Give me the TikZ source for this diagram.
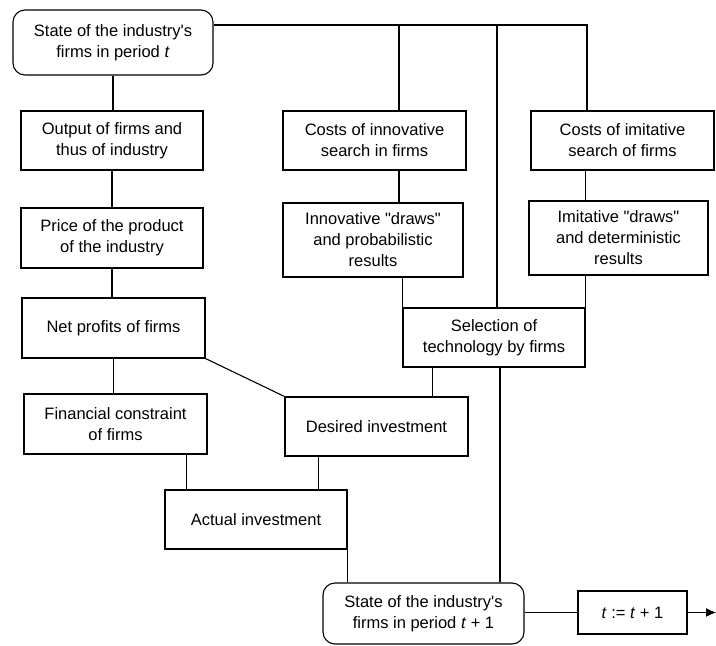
\documentclass[tikz,border=0pt]{standalone}
\usepackage{fontspec}
\setmainfont{Liberation Sans}
\usetikzlibrary{arrows.meta}
\begin{document}
\begin{tikzpicture}[x=1pt,y=-1pt,
  box/.style={draw,line width=1.1pt,rectangle,inner sep=1pt,align=center,
    font=\fontsize{16.5}{21}\selectfont},
  state/.style={box,rounded corners=12pt},
  conn/.style={line width=1.1pt}]
\useasboundingbox (0,0) rectangle (716,646);
\node[state,minimum width=200pt,minimum height=65pt] (s0) at (113,42.5) {State of the industry\textquotesingle s\\firms in period \textit{t}};
\node[box,minimum width=182pt,minimum height=59pt] (out) at (112,140.5) {Output of firms and\\thus of industry};
\node[box,minimum width=182pt,minimum height=60pt] (price) at (112,238) {Price of the product\\of the industry};
\node[box,minimum width=183pt,minimum height=60pt] (net) at (113.5,328) {Net profits of firms};
\node[box,minimum width=183pt,minimum height=60pt] (fin) at (115.5,424) {Financial constraint\\of firms};
\node[box,minimum width=183pt,minimum height=59pt] (des) at (376.5,426.5) {Desired investment};
\node[box,minimum width=182pt,minimum height=59pt] (act) at (256,519.5) {Actual investment};
\node[box,minimum width=183pt,minimum height=59pt] (cinn) at (374.5,140.5) {Costs of innovative\\search in firms};
\node[box,minimum width=180pt,minimum height=74pt] (dinn) at (373,240) {Innovative \textquotedbl draws\textquotedbl\\and probabilistic\\results};
\node[box,minimum width=183pt,minimum height=59pt] (cimi) at (622.5,140.5) {Costs of imitative\\search of firms};
\node[box,minimum width=179pt,minimum height=74pt] (dimi) at (618.5,238) {Imitative \textquotedbl draws\textquotedbl\\and deterministic\\results};
\node[box,minimum width=182pt,minimum height=59pt] (sel) at (494,337.5) {Selection of\\technology by firms};
\node[state,minimum width=201pt,minimum height=61pt] (s1) at (423.5,613.5) {State of the industry\textquotesingle s\\firms in period \textit{t} + 1};
\node[box,minimum width=109pt,minimum height=43pt] (tt) at (632.5,612.5) {\textit{t} := \textit{t} + 1};
\coordinate (end) at (716,612.5);
% left column
\draw[conn] (s0.south) -- (s0.south |- out.north);
\draw[conn] (out.south) -- (out.south |- price.north);
\draw[conn] (price.south) -- (price.south |- net.north);
\draw[conn] (net.south) -- (net.south |- fin.north);
\draw[conn] (net.south east) -- (des.north west);
\coordinate (fa) at ([xshift=22pt]act.north west);
\draw[conn] (fa) -- (fa |- fin.south);
\coordinate (da) at ([xshift=-29pt]act.north east);
\draw[conn] (da) -- (da |- des.south);
\draw[conn] (act.south east) -- (act.south east |- s1.north);
% top line
\coordinate (top) at ([yshift=17.5pt]s0.east);
\coordinate (cm) at ([xshift=-35.5pt]cimi.north);
\draw[conn] (top) -| (cm);
\coordinate (ci) at ([xshift=24.5pt]cinn.north);
\draw[conn] (ci) -- (ci |- top);
\draw[conn] (ci |- cinn.south) -- (ci |- dinn.north);
\draw[conn] (sel.north west) -- (sel.north west |- dinn.south);
\coordinate (sm) at ([xshift=3pt]sel.north);
\draw[conn] (sm) -- (sm |- top);
\draw[conn] (sel.north east |- cimi.south) -- (sel.north east |- dimi.north);
\draw[conn] (sel.north east) -- (sel.north east |- dimi.south);
\coordinate (sd) at ([xshift=30pt]sel.south west);
\draw[conn] (sd) -- (sd |- des.north);
\coordinate (ss) at ([xshift=6pt]sel.south);
\draw[conn] (ss) -- (ss |- s1.north);
\draw[conn] (s1.east |- tt.west) -- (tt.west);
\draw[conn,-{Latex[length=10pt,width=9pt]}] (tt.east) -- (end);
\end{tikzpicture}
\end{document}
